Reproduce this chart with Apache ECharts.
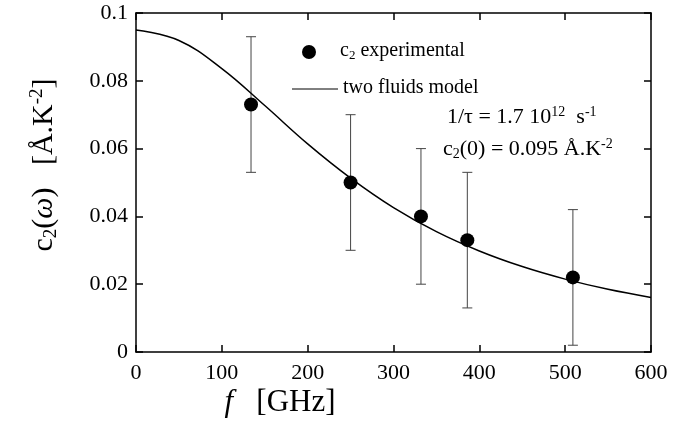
<!DOCTYPE html>
<html lang="en">
<head>
    <meta charset="UTF-8">
    <title>c2(w) two fluids model</title>
    <style>
        html, body { margin: 0; padding: 0; background: #fff; }
        #chart { width: 690px; height: 429px; }
    </style>
</head>
<body>
    <div id="chart"></div>
    <script src="https://cdn.jsdelivr.net/npm/echarts@6/dist/echarts.min.js"></script>
    <script>
        // measured points (GHz, A.K-2) with their error bars
        var freqs = [134, 250, 332, 386, 509];
        var c2Values = [0.073, 0.050, 0.040, 0.033, 0.022];
        var c2Errors = [0.020, 0.020, 0.020, 0.020, 0.020];

        // two fluids model curve
        var modelFreqs = [0, 50, 100, 150, 200, 250, 300, 350, 400, 450, 500, 550, 600];
        var modelValues = [0.095, 0.0919, 0.0836, 0.0727, 0.0614, 0.0513, 0.0426, 0.0355, 0.0298, 0.0252, 0.0215, 0.0185, 0.0161];

        var xTicks = [0, 100, 200, 300, 400, 500, 600];
        var yTicks = [0, 0.02, 0.04, 0.06, 0.08, 0.1];

        var serif = 'Liberation Serif';

        var points = freqs.map(function (f, i) { return [f, c2Values[i]]; });
        var bars = freqs.map(function (f, i) { return [f, c2Values[i] - c2Errors[i], c2Values[i] + c2Errors[i]]; });
        var model = modelFreqs.map(function (f, i) { return [f, modelValues[i]]; });

        function axis(extra) {
            return Object.assign({
                type: 'value',
                axisLine: { show: true, onZero: false, lineStyle: { color: '#000', width: 1.5 } },
                axisTick: { show: true, inside: true, length: 7, lineStyle: { color: '#000', width: 1.5 } },
                splitLine: { show: false }
            }, extra);
        }

        var chart = echarts.init(document.getElementById('chart'));

        chart.setOption({
            animation: false,
            backgroundColor: '#fff',
            grid: { left: 136, right: 39, top: 13, bottom: 77 },
            xAxis: [
                axis({
                    position: 'bottom',
                    min: xTicks[0], max: xTicks[xTicks.length - 1], interval: 100,
                    axisLabel: { color: '#000', fontFamily: serif, fontSize: 22, margin: 10 }
                }),
                axis({
                    position: 'top',
                    min: xTicks[0], max: xTicks[xTicks.length - 1], interval: 100,
                    axisLabel: { show: false }
                })
            ],
            yAxis: [
                axis({
                    position: 'left',
                    min: yTicks[0], max: yTicks[yTicks.length - 1], interval: 0.02,
                    axisLabel: { color: '#000', fontFamily: serif, fontSize: 22, margin: 8 }
                }),
                axis({
                    position: 'right',
                    min: yTicks[0], max: yTicks[yTicks.length - 1], interval: 0.02,
                    axisLabel: { show: false }
                })
            ],
            graphic: [
                {
                    type: 'text', x: 44, y: 165, rotation: Math.PI / 2,
                    style: {
                        text: 'c{sub|2}({it|ω})   [Å.K{sup|-2}]',
                        x: 0, y: 0, align: 'center', verticalAlign: 'middle',
                        font: '30px "Liberation Serif"', fill: '#000',
                        rich: {
                            sub: { fontFamily: serif, fontSize: 19, verticalAlign: 'bottom', padding: [14, 0, 0, 0] },
                            sup: { fontFamily: serif, fontSize: 19, verticalAlign: 'top', padding: [0, 0, 14, 0] },
                            it: { fontFamily: serif, fontSize: 30, fontStyle: 'italic' }
                        }
                    }
                },
                {
                    type: 'text', x: 280, y: 403,
                    style: {
                        text: '{it|f}   [GHz]',
                        x: 0, y: 0, align: 'center', verticalAlign: 'middle',
                        font: '31px "Liberation Serif"', fill: '#000',
                        rich: { it: { fontFamily: serif, fontSize: 31, fontStyle: 'italic' } }
                    }
                },
                // legend
                { type: 'circle', shape: { cx: 309, cy: 52, r: 7 }, style: { fill: '#000' } },
                {
                    type: 'text', x: 340, y: 51,
                    style: {
                        text: 'c{sub|2} experimental', verticalAlign: 'middle',
                        font: '20px "Liberation Serif"', fill: '#000',
                        rich: { sub: { fontFamily: serif, fontSize: 13, verticalAlign: 'bottom', padding: [10, 0, 0, 0] } }
                    }
                },
                { type: 'line', shape: { x1: 292, y1: 89, x2: 338, y2: 89 }, style: { stroke: '#000', lineWidth: 1 } },
                {
                    type: 'text', x: 343, y: 88,
                    style: { text: 'two fluids model', verticalAlign: 'middle', font: '20px "Liberation Serif"', fill: '#000' }
                },
                // model parameters
                {
                    type: 'text', x: 447, y: 117,
                    style: {
                        text: '1/τ = 1.7 10{sup|12}  s{sup|-1}', verticalAlign: 'middle',
                        font: '22px "Liberation Serif"', fill: '#000',
                        rich: { sup: { fontFamily: serif, fontSize: 14, verticalAlign: 'top', padding: [0, 0, 10, 0] } }
                    }
                },
                {
                    type: 'text', x: 443, y: 149,
                    style: {
                        text: 'c{sub|2}(0) = 0.095 Å.K{sup|-2}', verticalAlign: 'middle',
                        font: '22px "Liberation Serif"', fill: '#000',
                        rich: {
                            sub: { fontFamily: serif, fontSize: 14, verticalAlign: 'bottom', padding: [10, 0, 0, 0] },
                            sup: { fontFamily: serif, fontSize: 14, verticalAlign: 'top', padding: [0, 0, 10, 0] }
                        }
                    }
                }
            ],
            series: [
                {
                    name: 'two fluids model',
                    type: 'line',
                    data: model,
                    smooth: 0.4,
                    symbol: 'none',
                    lineStyle: { color: '#000', width: 1.5 },
                    z: 3
                },
                {
                    name: 'error',
                    type: 'custom',
                    data: bars,
                    renderItem: function (params, api) {
                        var lo = api.coord([api.value(0), api.value(1)]);
                        var hi = api.coord([api.value(0), api.value(2)]);
                        var w = 5;
                        var st = { stroke: '#444', lineWidth: 1 };
                        return {
                            type: 'group',
                            children: [
                                { type: 'line', shape: { x1: lo[0], y1: lo[1], x2: hi[0], y2: hi[1] }, style: st },
                                { type: 'line', shape: { x1: lo[0] - w, y1: lo[1], x2: lo[0] + w, y2: lo[1] }, style: st },
                                { type: 'line', shape: { x1: hi[0] - w, y1: hi[1], x2: hi[0] + w, y2: hi[1] }, style: st }
                            ]
                        };
                    },
                    z: 2
                },
                {
                    name: 'c2 experimental',
                    type: 'scatter',
                    data: points,
                    symbol: 'circle',
                    symbolSize: 14,
                    itemStyle: { color: '#000', opacity: 1 },
                    z: 4
                }
            ]
        });
    </script>
</body>
</html>
